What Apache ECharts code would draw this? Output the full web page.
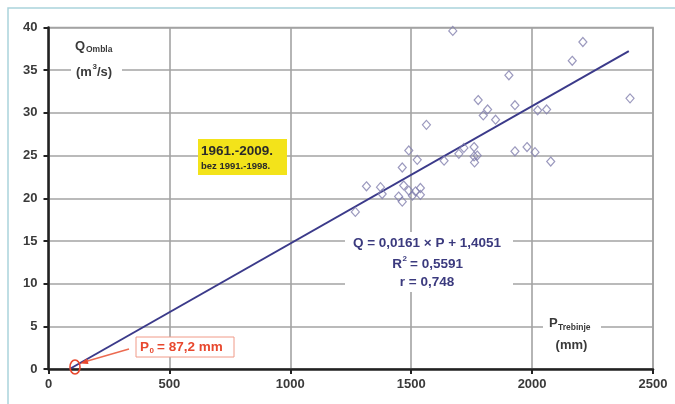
<!DOCTYPE html>
<html><head><meta charset="utf-8">
<script src="https://cdn.jsdelivr.net/npm/echarts@6/dist/echarts.min.js"></script>
<style>html,body{margin:0;padding:0;background:#fff}#c{width:675px;height:404px}</style>
</head><body><div id="c"></div>
<script>
// Annual precipitation Trebinje (mm) vs mean discharge Ombla (m3/s), 1961-2009 without 1991-1998
const precipitation = [1269, 1315, 1373, 1380, 1448, 1463, 1469, 1490, 1505, 1518, 1538, 1538, 1463, 1490, 1525, 1563, 1636, 1672, 1697, 1718, 1760, 1773, 1762, 1760, 1777, 1816, 1798, 1849, 1904, 1929, 1929, 1979, 2012, 2023, 2060, 2077, 2166, 2210, 2405];
const discharge     = [18.4, 21.4, 21.3, 20.5, 20.2, 19.6, 21.5, 20.9, 20.3, 20.8, 21.2, 20.4, 23.6, 25.6, 24.5, 28.6, 24.4, 39.6, 25.2, 25.9, 26.0, 25.0, 24.2, 24.9, 31.5, 30.4, 29.7, 29.2, 34.4, 30.9, 25.5, 26.0, 25.4, 30.3, 30.4, 24.3, 36.1, 38.3, 31.7];
// fitted line drawn from P0 to the end of the data
const fitP = [87.2, 2400];
const fitQ = [0, 37.24];
const xTicks = [0, 500, 1000, 1500, 2000, 2500];
const yTicks = [0, 5, 10, 15, 20, 25, 30, 35, 40];

const FONT = '"Liberation Sans", Arial, sans-serif';
const chart = echarts.init(document.getElementById('c'), null, {renderer: 'canvas'});

const gridLine = {show: true, lineStyle: {color: '#a3a3a3', width: 1.6}};
const labelStyle = {color: '#3a3a3a', fontFamily: FONT, fontWeight: 'bold', fontSize: 13, formatter: v => String(v)};

const option = {
  animation: false,
  backgroundColor: '#fff',
  grid: {left: 48.5, right: 22, top: 27.5, bottom: 35, show: true, borderColor: '#a3a3a3', borderWidth: 1.6, containLabel: false},
  xAxis: {
    type: 'value', min: xTicks[0], max: xTicks[xTicks.length - 1], interval: 500,
    axisLine: {show: true, onZero: false, lineStyle: {color: '#222', width: 2.5}},
    axisTick: {show: true, length: 5, lineStyle: {color: '#222', width: 2}},
    axisLabel: Object.assign({margin: 9}, labelStyle),
    splitLine: gridLine
  },
  yAxis: {
    type: 'value', min: yTicks[0], max: yTicks[yTicks.length - 1], interval: 5,
    axisLine: {show: true, onZero: false, lineStyle: {color: '#222', width: 2.5}},
    axisTick: {show: true, length: 5, lineStyle: {color: '#222', width: 2}},
    axisLabel: Object.assign({margin: 11}, labelStyle),
    splitLine: gridLine
  },
  series: [
    {
      type: 'line', data: fitP.map((p, i) => [p, fitQ[i]]), showSymbol: false, symbol: 'none',
      lineStyle: {color: '#3b3a8a', width: 2}, z: 3
    },
    {
      type: 'scatter', data: precipitation.map((p, i) => [p, discharge[i]]),
      symbol: 'diamond', symbolSize: [8, 9],
      itemStyle: {color: 'rgba(0,0,0,0)', borderColor: '#8280ae', borderWidth: 1.2}, z: 4
    }
  ],
  graphic: [
    // outer light blue frame
    {type: 'rect', shape: {x: 8, y: 8, width: 700, height: 500}, style: {fill: 'none', stroke: '#aad3dc', lineWidth: 1.5}, z: 1},
    // Q Ombla label
    {type: 'rect', shape: {x: 71, y: 33, width: 51, height: 48}, style: {fill: '#fff'}, z: 50},
    {type: 'text', style: {text: 'Q', x: 75, y: 46, font: 'bold 13px ' + FONT, fill: '#3a3a3a', textVerticalAlign: 'middle'}, z: 51},
    {type: 'text', style: {text: 'Ombla', x: 86, y: 50, font: 'bold 8.5px ' + FONT, fill: '#3a3a3a', textVerticalAlign: 'middle'}, z: 51},
    {type: 'text', style: {text: '(m', x: 76, y: 72, font: 'bold 13px ' + FONT, fill: '#3a3a3a', textVerticalAlign: 'middle'}, z: 51},
    {type: 'text', style: {text: '3', x: 92.5, y: 67, font: 'bold 8px ' + FONT, fill: '#3a3a3a', textVerticalAlign: 'middle'}, z: 51},
    {type: 'text', style: {text: '/s)', x: 97, y: 72, font: 'bold 13px ' + FONT, fill: '#3a3a3a', textVerticalAlign: 'middle'}, z: 51},
    // yellow period box
    {type: 'rect', shape: {x: 198, y: 139, width: 89, height: 36}, style: {fill: '#f3e31a'}, z: 50},
    {type: 'text', style: {text: '1961.-2009.', x: 201, y: 151, font: 'bold 13.5px ' + FONT, fill: '#2a2a2a', textVerticalAlign: 'middle'}, z: 51},
    {type: 'text', style: {text: 'bez 1991.-1998.', x: 201, y: 166, font: 'bold 9.5px ' + FONT, fill: '#2a2a2a', textVerticalAlign: 'middle'}, z: 51},
    // equation block
    {type: 'rect', shape: {x: 345, y: 232, width: 168, height: 60}, style: {fill: '#fff'}, z: 50},
    {type: 'text', style: {text: 'Q = 0,0161 × P + 1,4051', x: 427, y: 243, font: 'bold 13.5px ' + FONT, fill: '#3b3a7e', textAlign: 'center', textVerticalAlign: 'middle'}, z: 51},
    {type: 'text', style: {text: 'R', x: 402, y: 264, font: 'bold 13.5px ' + FONT, fill: '#3b3a7e', textAlign: 'right', textVerticalAlign: 'middle'}, z: 51},
    {type: 'text', style: {text: '2', x: 402.5, y: 259, font: 'bold 8px ' + FONT, fill: '#3b3a7e', textVerticalAlign: 'middle'}, z: 51},
    {type: 'text', style: {text: '= 0,5591', x: 410, y: 264, font: 'bold 13.5px ' + FONT, fill: '#3b3a7e', textVerticalAlign: 'middle'}, z: 51},
    {type: 'text', style: {text: 'r = 0,748', x: 427, y: 282, font: 'bold 13.5px ' + FONT, fill: '#3b3a7e', textAlign: 'center', textVerticalAlign: 'middle'}, z: 51},
    // P Trebinje label
    {type: 'rect', shape: {x: 543, y: 314, width: 58, height: 42}, style: {fill: '#fff'}, z: 50},
    {type: 'text', style: {text: 'P', x: 549, y: 323, font: 'bold 13px ' + FONT, fill: '#3a3a3a', textVerticalAlign: 'middle'}, z: 51},
    {type: 'text', style: {text: 'Trebinje', x: 558, y: 328, font: 'bold 8.5px ' + FONT, fill: '#3a3a3a', textVerticalAlign: 'middle'}, z: 51},
    {type: 'text', style: {text: '(mm)', x: 571.5, y: 345, font: 'bold 13px ' + FONT, fill: '#3a3a3a', textAlign: 'center', textVerticalAlign: 'middle'}, z: 51},
    // P0 marker
    {type: 'ellipse', shape: {cx: 75, cy: 367, rx: 5, ry: 7}, style: {fill: 'none', stroke: '#e8482e', lineWidth: 1.6}, z: 52},
    {type: 'line', shape: {x1: 129, y1: 349, x2: 84, y2: 362}, style: {stroke: '#ec6a50', lineWidth: 1.4}, z: 52},
    {type: 'polygon', shape: {points: [[80, 363.5], [87, 358.5], [88.5, 364]]}, style: {fill: '#e8482e'}, z: 52},
    {type: 'rect', shape: {x: 136, y: 337, width: 98, height: 20}, style: {fill: '#fff', stroke: '#f09a88', lineWidth: 1}, z: 52},
    {type: 'text', style: {text: 'P', x: 140, y: 347, font: 'bold 13.5px ' + FONT, fill: '#e8482e', textVerticalAlign: 'middle'}, z: 53},
    {type: 'text', style: {text: '0', x: 149.5, y: 351, font: 'bold 8px ' + FONT, fill: '#e8482e', textVerticalAlign: 'middle'}, z: 53},
    {type: 'text', style: {text: '= 87,2 mm', x: 157, y: 347, font: 'bold 13.5px ' + FONT, fill: '#e8482e', textVerticalAlign: 'middle'}, z: 53}
  ]
};
chart.setOption(option);
</script>
</body></html>
